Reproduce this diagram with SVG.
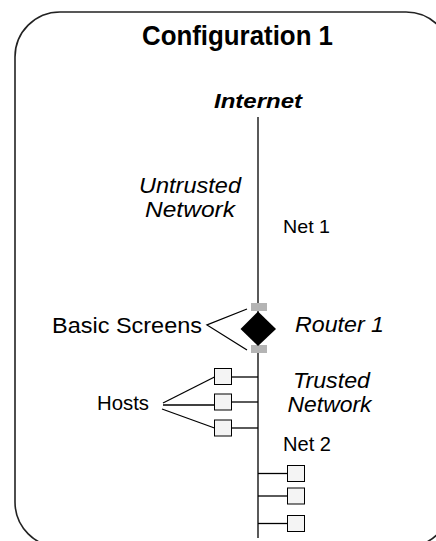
<svg xmlns="http://www.w3.org/2000/svg" width="436" height="541" viewBox="0 0 436 541">
  <style>
    .frame { fill: none; stroke: #222; stroke-width: 1.6; }
    .wire { fill: none; stroke: #000; stroke-width: 1.3; }
    .host { fill: #f4f4f4; stroke: #000; stroke-width: 1; }
    .port { fill: #b4b4b4; }
    .lbl { font-family: "Liberation Sans", Arial, sans-serif; fill: #000; }
    .it { font-style: italic; }
    .bd { font-weight: bold; }
  </style>

  <!-- outer panel, running off the right and bottom edges -->
  <rect class="frame" x="15" y="12" width="436" height="535" rx="45" ry="45"/>

  <text class="lbl bd" x="142" y="45" font-size="27.5" textLength="191" lengthAdjust="spacingAndGlyphs">Configuration 1</text>

  <!-- connectors -->
  <g id="connectors">
    <line class="wire" x1="258" y1="117" x2="258" y2="538"/>
    <!-- screen callout -->
    <polyline class="wire" points="247,309 207,325 247,350"/>
    <!-- hosts on Net 2 (upper) -->
    <line class="wire" x1="231.5" y1="377" x2="258" y2="377"/>
    <line class="wire" x1="231.5" y1="402" x2="258" y2="402"/>
    <line class="wire" x1="231.5" y1="428" x2="258" y2="428"/>
    <!-- hosts callout -->
    <line class="wire" x1="163" y1="403" x2="214.5" y2="377"/>
    <line class="wire" x1="163" y1="405" x2="214.5" y2="405"/>
    <line class="wire" x1="162" y1="409" x2="214.5" y2="428"/>
    <!-- hosts on Net 2 (lower) -->
    <line class="wire" x1="258" y1="473.5" x2="287.5" y2="473.5"/>
    <line class="wire" x1="258" y1="496" x2="287.5" y2="496"/>
    <line class="wire" x1="258" y1="523.5" x2="287.5" y2="523.5"/>
  </g>

  <g id="internet">
    <text class="lbl bd it" x="214" y="107.5" font-size="20" textLength="88" lengthAdjust="spacingAndGlyphs">Internet</text>
  </g>

  <g id="untrusted-network">
    <text class="lbl it" x="139" y="193" font-size="21.5" textLength="102" lengthAdjust="spacingAndGlyphs">Untrusted</text>
    <text class="lbl it" x="145" y="216.5" font-size="21.5" textLength="90" lengthAdjust="spacingAndGlyphs">Network</text>
  </g>

  <g id="net1">
    <text class="lbl" x="283" y="233" font-size="19" textLength="47" lengthAdjust="spacingAndGlyphs">Net 1</text>
  </g>

  <g id="router1">
    <rect class="port" x="251" y="303" width="16" height="8"/>
    <rect class="port" x="251" y="345" width="16" height="8"/>
    <polygon points="258,311.5 276,329 258,346 240.5,329" fill="#000"/>
    <text class="lbl it" x="295" y="332" font-size="22" textLength="89" lengthAdjust="spacingAndGlyphs">Router 1</text>
  </g>

  <g id="basic-screens">
    <text class="lbl" x="52" y="333" font-size="21.5" textLength="150" lengthAdjust="spacingAndGlyphs">Basic Screens</text>
  </g>

  <g id="hosts">
    <rect class="host" x="214.5" y="368.5" width="17" height="16"/>
    <rect class="host" x="214.5" y="394" width="17" height="16"/>
    <rect class="host" x="214.5" y="420" width="17" height="16"/>
    <text class="lbl" x="97" y="410" font-size="19.5" textLength="52" lengthAdjust="spacingAndGlyphs">Hosts</text>
  </g>

  <g id="trusted-network">
    <text class="lbl it" x="293" y="388" font-size="21.5" textLength="77" lengthAdjust="spacingAndGlyphs">Trusted</text>
    <text class="lbl it" x="287.5" y="411.5" font-size="21.5" textLength="84" lengthAdjust="spacingAndGlyphs">Network</text>
  </g>

  <g id="net2">
    <text class="lbl" x="283" y="451" font-size="19.5" textLength="48" lengthAdjust="spacingAndGlyphs">Net 2</text>
  </g>

  <g id="net2-hosts">
    <rect class="host" x="287.5" y="465.5" width="17" height="16"/>
    <rect class="host" x="287.5" y="488" width="17" height="16"/>
    <rect class="host" x="287.5" y="515.5" width="17" height="16"/>
  </g>
</svg>
